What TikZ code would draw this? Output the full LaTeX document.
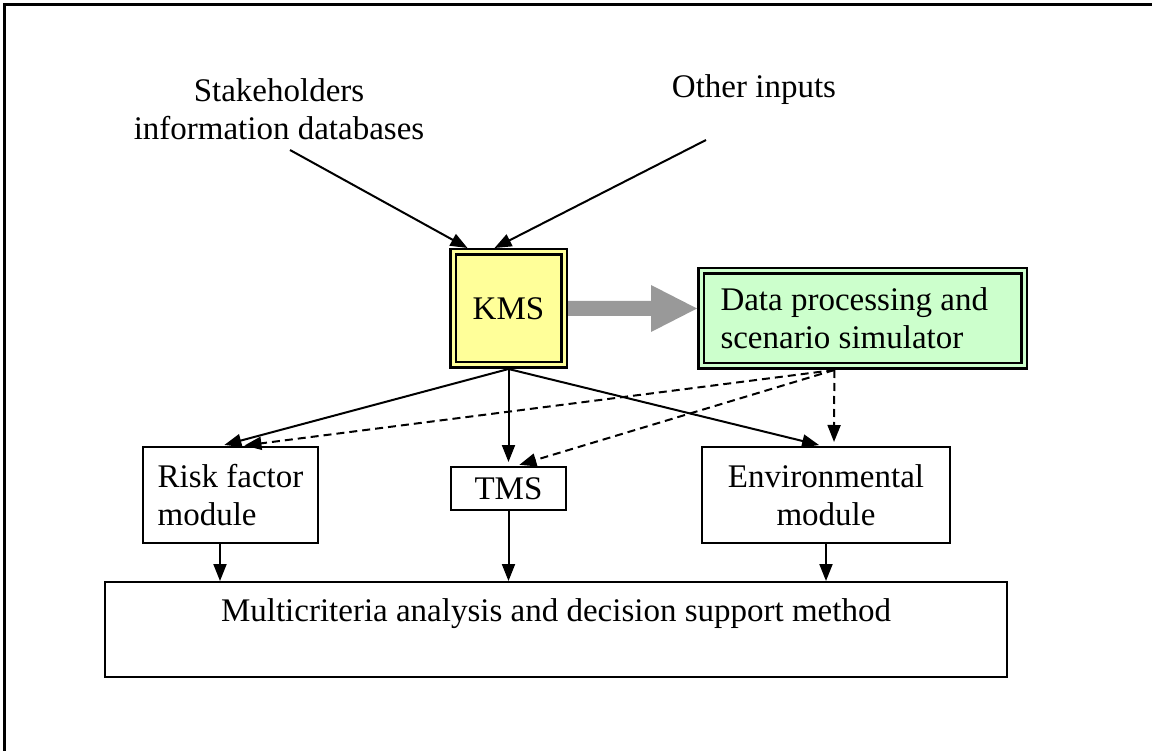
\documentclass[tikz,border=0pt]{standalone}
\usepackage{fontspec}
\setmainfont{Liberation Serif}
\usetikzlibrary{arrows.meta,calc}
\definecolor{kmsyellow}{HTML}{FFFF99}
\definecolor{dgreen}{HTML}{CCFFCC}
\definecolor{arrgray}{HTML}{999999}
\begin{document}
\begin{tikzpicture}[x=1pt,y=-1pt,
  every node/.style={font=\fontsize{33}{38}\selectfont, inner sep=0pt, outer sep=0pt},
  box/.style={draw, line width=2pt, align=center, outer sep=1pt},
  dbox/.style={draw, line width=2.5pt, double distance=3pt, outer sep=4pt},
  arr/.style={line width=2pt, -{Triangle[length=17pt,width=13pt]}},
  darr/.style={arr, dash pattern=on 8pt off 5pt},
  gap/.style={shorten >=4pt}]
\useasboundingbox (0,0) rectangle (1152,751);
% frame
\draw[line width=3pt] (4,751) -- (4,5) -- (1152,5);
% inputs
\node[align=center] (stake) at (279,109) {Stakeholders\\information databases};
\node (other) at (754,90) {Other inputs};
\coordinate (sin) at (290,150);
\coordinate (oin) at (706,140);
% main boxes
\node[dbox, fill=kmsyellow, double=kmsyellow, minimum width=111, minimum height=113] (kms) at (508.5,308.5) {KMS};
\node[dbox, fill=dgreen, double=dgreen, minimum width=323, minimum height=95,
      text width=284pt, align=flush left, inner xsep=19.5pt] (data) at (862.5,318.5) {Data processing and\\scenario simulator};
\node[box, align=left, minimum width=175, minimum height=96] (risk) at (230.5,495) {Risk factor\\module};
\node[box, minimum width=115, minimum height=43] (tms) at (508.5,488.5) {TMS};
\node[box, minimum width=248, minimum height=96] (env) at (826,495) {Environmental\\module};
\node[box, minimum width=902, minimum height=95] (mc) at (556,629.5) {Multicriteria analysis and decision support method\\\mbox{}};
% input arrows
\draw[arr] (sin) -- ([xshift=-41pt]kms.north);
\draw[arr] (oin) -- ([xshift=-14pt]kms.north);
% big gray arrow
\coordinate (gtip) at (kms.east -| data.west);
\fill[arrgray] ($(kms.east)+(0,-7.5)$) -- ($(gtip)+(-46,-7.5)$) -- ($(gtip)+(-46,-23.5)$)
  -- (gtip) -- ($(gtip)+(-46,23.5)$) -- ($(gtip)+(-46,7.5)$) -- ($(kms.east)+(0,7.5)$) -- cycle;
% KMS to modules
\draw[arr, gap] (kms.south) -- ([xshift=-10pt]risk.north);
\draw[arr, gap] (kms.south) -- (tms.north);
\draw[arr, gap] (kms.south) -- ([xshift=-3pt]env.north);
% data to modules (dashed)
\coordinate (dsrc) at ($(data.south west)!0.415!(data.south east)$);
\draw[darr, gap] (dsrc) -- ([xshift=10pt]risk.north);
\draw[darr, gap] (dsrc) -- ([xshift=7pt]tms.north);
\draw[darr, gap] (dsrc) -- ([xshift=8pt]env.north);
% modules to multicriteria
\coordinate (r1) at ([xshift=-10.5pt]risk.south);
\draw[arr] (r1) -- (r1 |- mc.north);
\draw[arr] (tms.south) -- (tms.south |- mc.north);
\draw[arr] (env.south) -- (env.south |- mc.north);
\end{tikzpicture}
\end{document}
